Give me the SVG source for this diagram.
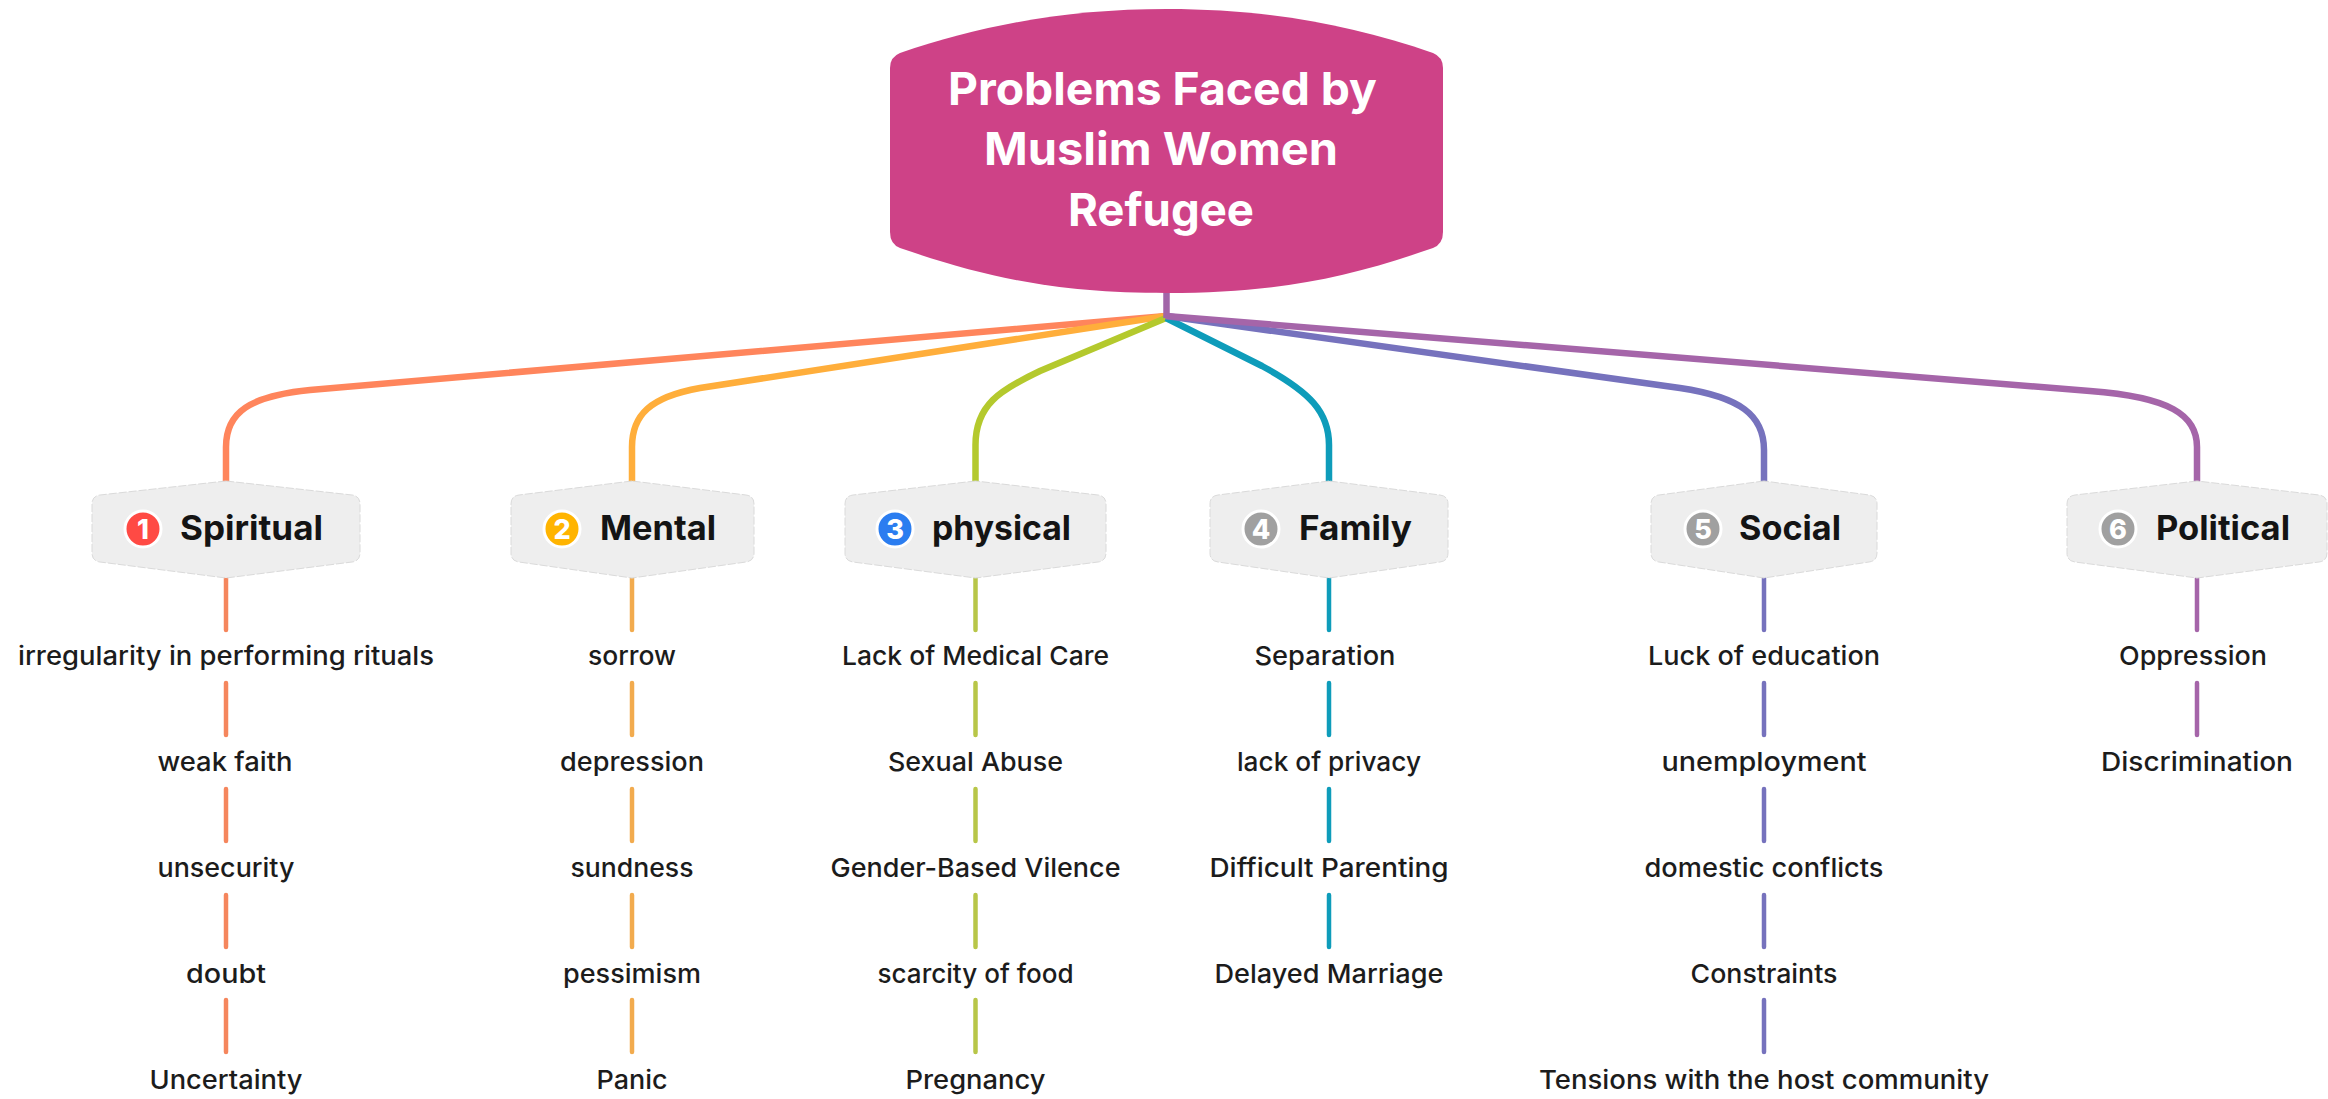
<svg xmlns="http://www.w3.org/2000/svg" width="2328" height="1099" viewBox="0 0 2328 1099">
<style>
text{font-family:"Inter","Liberation Sans",sans-serif;text-anchor:middle}
.t{font-size:26px;font-weight:450;fill:#1c1c1c}
.h{font-size:34px;font-weight:650;fill:#141414;text-anchor:start}
.r{font-size:45px;font-weight:650;fill:#fff}
.n{fill:#eeeeee;stroke:#dadada;stroke-width:1;stroke-dasharray:8 2}
.b{stroke:#fff;stroke-width:3}
.d{font-size:27px;font-weight:800;fill:#fff}
.c{fill:none;stroke-width:6.500}
.s{fill:none;stroke-width:4.500;stroke-linecap:round}
.o{stroke:#ff855c}.y{stroke:#ffae3b}.g{stroke:#b4c92d}.e{stroke:#0e9cba}.v{stroke:#7672bd}.p{stroke:#a565a9}
.so{stroke:#f5865d}.sy{stroke:#f2ab4e}.sg{stroke:#b8c648}
</style>
<g id="connectors">
<path class="c o" d="M1166 316L310 390C250 396 226 412 226 447V482"/>
<path class="c y" d="M1166 316L700 388C650 397 632 415 632 447V482"/>
<path class="c g" d="M1166 318L1040 371C1000 390 975.500 405 975.500 445V482"/>
<path class="c e" d="M1166 318L1262 366C1310 392 1329 412 1329 445V482"/>
<path class="c v" d="M1166 316L1680 388C1740 397 1764 415 1764 450V482"/>
<path class="c p" d="M1166 316L2090 391C2170 397 2197 415 2197 447V482"/>
<path d="M1166.500 290V318" fill="none" stroke="#a265a8" stroke-width="6.500"/>
<path class="s so" d="M226 578V630M226 683V735M226 789V841M226 895V947M226 1000V1052"/>
<path class="s sy" d="M632 578V630M632 683V735M632 789V841M632 895V947M632 1000V1052"/>
<path class="s sg" d="M975.500 578V630M975.500 683V735M975.500 789V841M975.500 895V947M975.500 1000V1052"/>
<path class="s e" d="M1329 578V630M1329 683V735M1329 789V841M1329 895V947"/>
<path class="s v" d="M1764 578V630M1764 683V735M1764 789V841M1764 895V947M1764 1000V1052"/>
<path class="s p" d="M2197 578V630M2197 683V735"/>
</g>
<g id="root">
<path fill="#ce4287" d="M1167 9C1070 9 985 24 900 53Q890 57 890 68V232Q890 244 900 248C990 279 1060 293 1167 293C1274 293 1344 279 1433 248Q1443 244 1443 232V68Q1443 57 1433 53C1349 24 1264 9 1167 9Z"/>
<text class="r" x="1162.500" y="105" textLength="429" lengthAdjust="spacingAndGlyphs">Problems Faced by</text>
<text class="r" x="1161" y="165" textLength="354" lengthAdjust="spacingAndGlyphs">Muslim Women</text>
<text class="r" x="1161" y="226" textLength="186" lengthAdjust="spacingAndGlyphs">Refugee</text>
</g>
<g id="spiritual">
<path class="n" d="M226 481L100 495Q92 496 92 504V553Q92 561 100 562L226 578L352 562Q360 561 360 553V504Q360 496 352 495Z"/>
<circle class="b" cx="143" cy="529" r="18" fill="#ff4a44"/><text class="d" x="143" y="539">1</text>
<text class="h" x="180" y="540" textLength="143" lengthAdjust="spacingAndGlyphs">Spiritual</text>
<text class="t" x="226" y="665" textLength="416" lengthAdjust="spacingAndGlyphs">irregularity in performing rituals</text>
<text class="t" x="225" y="771" textLength="135" lengthAdjust="spacingAndGlyphs">weak faith</text>
<text class="t" x="226" y="877" textLength="137" lengthAdjust="spacingAndGlyphs">unsecurity</text>
<text class="t" x="226" y="983" textLength="80" lengthAdjust="spacingAndGlyphs">doubt</text>
<text class="t" x="226" y="1089" textLength="153" lengthAdjust="spacingAndGlyphs">Uncertainty</text>
</g>
<g id="mental">
<path class="n" d="M632 481L519 495Q511 496 511 504V553Q511 561 519 562L632 578L746 562Q754 561 754 553V504Q754 496 746 495Z"/>
<circle class="b" cx="562" cy="529" r="18" fill="#ffb400"/><text class="d" x="562" y="539">2</text>
<text class="h" x="600" y="540" textLength="116" lengthAdjust="spacingAndGlyphs">Mental</text>
<text class="t" x="632" y="665" textLength="88" lengthAdjust="spacingAndGlyphs">sorrow</text>
<text class="t" x="632" y="771" textLength="144" lengthAdjust="spacingAndGlyphs">depression</text>
<text class="t" x="632" y="877" textLength="123" lengthAdjust="spacingAndGlyphs">sundness</text>
<text class="t" x="632" y="983" textLength="138" lengthAdjust="spacingAndGlyphs">pessimism</text>
<text class="t" x="632" y="1089" textLength="71" lengthAdjust="spacingAndGlyphs">Panic</text>
</g>
<g id="physical">
<path class="n" d="M975.500 481L853 495Q845 496 845 504V553Q845 561 853 562L975.500 578L1098 562Q1106 561 1106 553V504Q1106 496 1098 495Z"/>
<circle class="b" cx="895" cy="529" r="18" fill="#2b7df0"/><text class="d" x="895" y="539">3</text>
<text class="h" x="932" y="540" textLength="139" lengthAdjust="spacingAndGlyphs">physical</text>
<text class="t" x="975.500" y="665" textLength="267" lengthAdjust="spacingAndGlyphs">Lack of Medical Care</text>
<text class="t" x="975.500" y="771" textLength="175" lengthAdjust="spacingAndGlyphs">Sexual Abuse</text>
<text class="t" x="975.500" y="877" textLength="290" lengthAdjust="spacingAndGlyphs">Gender-Based Vilence</text>
<text class="t" x="975.500" y="983" textLength="196" lengthAdjust="spacingAndGlyphs">scarcity of food</text>
<text class="t" x="975.500" y="1089" textLength="140" lengthAdjust="spacingAndGlyphs">Pregnancy</text>
</g>
<g id="family">
<path class="n" d="M1329 481L1218 495Q1210 496 1210 504V553Q1210 561 1218 562L1329 578L1440 562Q1448 561 1448 553V504Q1448 496 1440 495Z"/>
<circle class="b" cx="1261" cy="529" r="18" fill="#a0a0a0"/><text class="d" x="1261" y="539">4</text>
<text class="h" x="1299" y="540" textLength="113" lengthAdjust="spacingAndGlyphs">Family</text>
<text class="t" x="1325" y="665" textLength="141" lengthAdjust="spacingAndGlyphs">Separation</text>
<text class="t" x="1329" y="771" textLength="184" lengthAdjust="spacingAndGlyphs">lack of privacy</text>
<text class="t" x="1329" y="877" textLength="239" lengthAdjust="spacingAndGlyphs">Difficult Parenting</text>
<text class="t" x="1329" y="983" textLength="229" lengthAdjust="spacingAndGlyphs">Delayed Marriage</text>
</g>
<g id="social">
<path class="n" d="M1764 481L1659 495Q1651 496 1651 504V553Q1651 561 1659 562L1764 578L1869 562Q1877 561 1877 553V504Q1877 496 1869 495Z"/>
<circle class="b" cx="1703" cy="529" r="18" fill="#a0a0a0"/><text class="d" x="1703" y="539">5</text>
<text class="h" x="1739" y="540" textLength="102" lengthAdjust="spacingAndGlyphs">Social</text>
<text class="t" x="1764" y="665" textLength="232" lengthAdjust="spacingAndGlyphs">Luck of education</text>
<text class="t" x="1764" y="771" textLength="205" lengthAdjust="spacingAndGlyphs">unemployment</text>
<text class="t" x="1764" y="877" textLength="239" lengthAdjust="spacingAndGlyphs">domestic conflicts</text>
<text class="t" x="1764" y="983" textLength="147" lengthAdjust="spacingAndGlyphs">Constraints</text>
<text class="t" x="1764" y="1089" textLength="450" lengthAdjust="spacingAndGlyphs">Tensions with the host community</text>
</g>
<g id="political">
<path class="n" d="M2197 481L2075 495Q2067 496 2067 504V553Q2067 561 2075 562L2197 578L2319 562Q2327 561 2327 553V504Q2327 496 2319 495Z"/>
<circle class="b" cx="2118" cy="529" r="18" fill="#a0a0a0"/><text class="d" x="2118" y="539">6</text>
<text class="h" x="2156" y="540" textLength="134" lengthAdjust="spacingAndGlyphs">Political</text>
<text class="t" x="2193" y="665" textLength="148" lengthAdjust="spacingAndGlyphs">Oppression</text>
<text class="t" x="2197" y="771" textLength="192" lengthAdjust="spacingAndGlyphs">Discrimination</text>
</g>
</svg>
